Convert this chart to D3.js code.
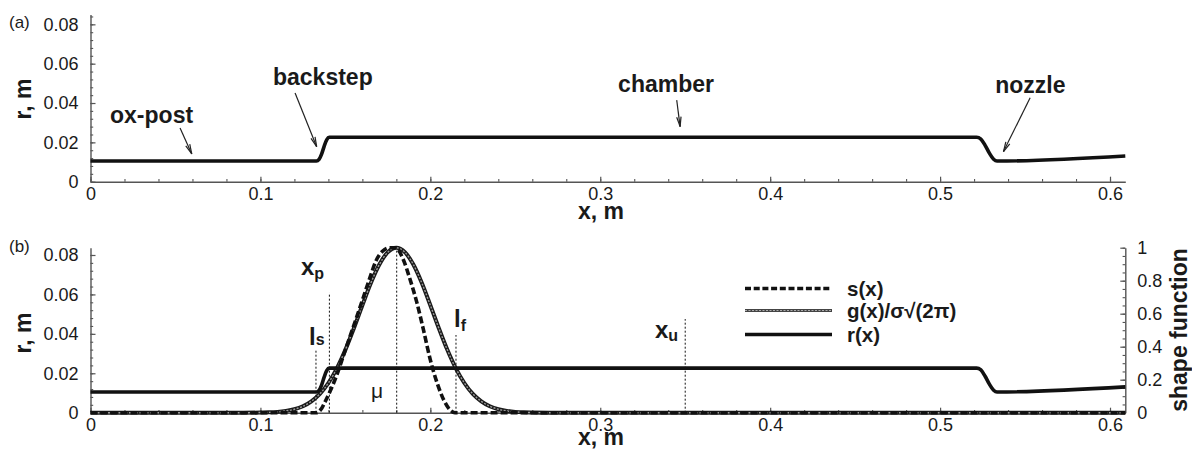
<!DOCTYPE html>
<html><head><meta charset="utf-8">
<script src="https://cdn.jsdelivr.net/npm/d3@7"></script>
<style>
body{margin:0;background:#fff}
svg{display:block}
text{font-family:"Liberation Sans",Arial,Helvetica,sans-serif;fill:#1a1a1a}
</style>
</head><body>
<svg id="c" width="1192" height="452"></svg>
<script>
// ---------- data ----------
const xTicks = [0, 0.1, 0.2, 0.3, 0.4, 0.5, 0.6];
const rTicks = [0, 0.02, 0.04, 0.06, 0.08];
const shapeTicks = [0, 0.2, 0.4, 0.6, 0.8, 1];

// r(x): geometry radius, m
const rX = [0, 0.1330, 0.1345, 0.1360, 0.1375, 0.1390, 0.1405, 0.5215, 0.5240, 0.5265, 0.5290, 0.5315, 0.5335, 0.609];
const rY = [0.0105, 0.0105, 0.0113, 0.0140, 0.0180, 0.0213, 0.0226, 0.0226, 0.0217, 0.0185, 0.0145, 0.0114, 0.0105, 0.0131];

// s(x): shape function
const sX = [0, 0.1330, 0.1360, 0.1380, 0.1410, 0.1450, 0.1490, 0.1530, 0.1570, 0.1606, 0.1645, 0.1680, 0.1720, 0.1760, 0.1795, 0.1840, 0.1880, 0.1920, 0.1960, 0.2000, 0.2040, 0.2080, 0.2115, 0.2145, 0.609];
const sY = [0, 0, 0.025, 0.065, 0.13, 0.23, 0.35, 0.47, 0.59, 0.70, 0.82, 0.92, 0.98, 1.0, 1.0, 0.93, 0.81, 0.67, 0.50, 0.32, 0.18, 0.075, 0.018, 0, 0];

// g(x)/sigma*sqrt(2pi): gaussian shape
const gX = [0, 0.090, 0.100, 0.105, 0.110, 0.115, 0.120, 0.125, 0.130, 0.135, 0.140, 0.145, 0.150, 0.155, 0.160, 0.165, 0.170, 0.175, 0.180, 0.185, 0.190, 0.195, 0.200, 0.205, 0.210, 0.215, 0.220, 0.225, 0.230, 0.235, 0.240, 0.245, 0.250, 0.255, 0.260, 0.270, 0.609];
const gY = [0, 0, 0.001, 0.002, 0.005, 0.011, 0.021, 0.039, 0.069, 0.114, 0.18, 0.269, 0.381, 0.512, 0.651, 0.786, 0.898, 0.973, 1.0, 0.973, 0.898, 0.786, 0.651, 0.512, 0.381, 0.269, 0.18, 0.114, 0.069, 0.039, 0.021, 0.011, 0.005, 0.002, 0.001, 0, 0];

// vertical marker lines (x, top in r units)
const markerX = [0.1327, 0.1406, 0.1802, 0.2151, 0.35];
const markerTop = [0.0318, 0.0609, 0.0836, 0.0394, 0.0475];

// top panel annotations
const annoText = ["ox-post", "backstep", "chamber", "nozzle"];
const annoTailX = [0.0527, 0.1204, 0.3450, 0.5530];
const annoTailY = [0.0273, 0.0451, 0.0415, 0.0427];
const annoTipX = [0.0596, 0.1331, 0.3470, 0.5373];
const annoTipY = [0.0141, 0.0178, 0.0280, 0.0153];
const annoLabelX = [0.0115, 0.1074, 0.3105, 0.5324];
const annoLabelY = [0.0296, 0.0491, 0.0458, 0.0452];

const legendNames = ["s(x)", "g(x)/σ√(2π)", "r(x)"];

// ---------- layout ----------
const svg = d3.select("#c");
const X0 = 90.5, X1 = 1125.3;
const xScale = d3.scaleLinear().domain([0, 0.609]).range([X0, X1]);
const yTop = d3.scaleLinear().domain([0, 0.085]).range([181.7, 14.5]);
const yBot = d3.scaleLinear().domain([0, 0.0837]).range([412.7, 247.7]);
const yShape = d3.scaleLinear().domain([0, 1]).range([412.7, 247.7]);

const fmt = d => d === 0 ? "0" : d3.format("~g")(d);
const axisColor = "#555";

function styleAxis(g) {
  g.select(".domain").attr("stroke", axisColor).attr("stroke-width", 1.4);
  g.selectAll(".tick line").attr("stroke", axisColor).attr("stroke-width", 1.2);
  g.selectAll(".tick text").attr("font-size", 18).attr("fill", "#222")
    .attr("font-family", '"Liberation Sans",Arial,Helvetica,sans-serif');
}
const inDom = (s) => v => v >= s.domain()[0] - 1e-9 && v <= s.domain()[1] + 1e-9;
const xMinor = d3.range(0, 31).map(i => i * 0.02).filter(inDom(xScale));
const yMinorT = d3.range(0, 22).map(i => i * 0.004);

function drawXAxis(yPos) {
  const g = svg.append("g").attr("transform", `translate(0,${yPos})`);
  g.call(d3.axisBottom(xScale).tickValues(xMinor).tickSize(-2.7).tickFormat("").tickSizeOuter(0));
  g.select(".domain").remove();
  g.selectAll(".tick line").attr("stroke", axisColor).attr("stroke-width", 1.1);
  const g2 = svg.append("g").attr("transform", `translate(0,${yPos})`);
  g2.call(d3.axisBottom(xScale).tickValues(xTicks).tickSize(-5).tickPadding(6).tickFormat(fmt).tickSizeOuter(0));
  styleAxis(g2);
}
function drawYAxis(scale, majors, minors, side) {
  const xPos = side === "left" ? X0 : X1;
  const ax = side === "left" ? d3.axisLeft : d3.axisRight;
  const g = svg.append("g").attr("transform", `translate(${xPos},0)`);
  g.call(ax(scale).tickValues(minors.filter(inDom(scale))).tickSize(-2.7).tickFormat("").tickSizeOuter(0));
  g.select(".domain").remove();
  g.selectAll(".tick line").attr("stroke", axisColor).attr("stroke-width", 1.1);
  const g2 = svg.append("g").attr("transform", `translate(${xPos},0)`);
  g2.call(ax(scale).tickValues(majors).tickSize(-5).tickPadding(12).tickFormat(fmt).tickSizeOuter(0));
  styleAxis(g2);
}

// ---------- panel (a) ----------
drawXAxis(181.7);
drawYAxis(yTop, rTicks, yMinorT, "left");

const lineTop = d3.line().x(d => xScale(d[0])).y(d => yTop(d[1])).curve(d3.curveMonotoneX);
svg.append("path").datum(rX.map((x, i) => [x, rY[i]]))
  .attr("d", lineTop).attr("fill", "none").attr("stroke", "#111").attr("stroke-width", 3.6);

annoText.forEach((t, i) => {
  svg.append("text").attr("x", xScale(annoLabelX[i])).attr("y", yTop(annoLabelY[i]))
    .attr("font-size", 23).attr("font-weight", "bold").text(t);
  const x1 = xScale(annoTailX[i]), y1 = yTop(annoTailY[i]);
  const x2 = xScale(annoTipX[i]), y2 = yTop(annoTipY[i]);
  svg.append("line").attr("x1", x1).attr("y1", y1).attr("x2", x2).attr("y2", y2)
    .attr("stroke", "#222").attr("stroke-width", 1.2);
  const ang = Math.atan2(y1 - y2, x1 - x2), L = 10, da = 0.22;
  [ang - da, ang + da].forEach(a => {
    svg.append("line").attr("x1", x2).attr("y1", y2)
      .attr("x2", x2 + L * Math.cos(a)).attr("y2", y2 + L * Math.sin(a))
      .attr("stroke", "#222").attr("stroke-width", 1.2);
  });
});

svg.append("text").attr("x", 9).attr("y", 28).attr("font-size", 17).text("(a)");
svg.append("text").attr("transform", "translate(31,99) rotate(-90)").attr("text-anchor", "middle")
  .attr("font-size", 23).attr("font-weight", "bold").text("r, m");
svg.append("text").attr("x", 601).attr("y", 219).attr("text-anchor", "middle")
  .attr("font-size", 23).attr("font-weight", "bold").text("x, m");

// ---------- panel (b) ----------
drawXAxis(412.7);
drawYAxis(yBot, rTicks, yMinorT, "left");
drawYAxis(yShape, shapeTicks, d3.range(0, 21).map(i => i * 0.05), "right");

// marker lines
markerX.forEach((mx, i) => {
  svg.append("line").attr("x1", xScale(mx)).attr("x2", xScale(mx))
    .attr("y1", yBot(0)).attr("y2", yBot(markerTop[i]))
    .attr("stroke", "#111").attr("stroke-width", 1).attr("stroke-dasharray", "2,2");
});

const lineShape = d3.line().x(d => xScale(d[0])).y(d => yShape(d[1])).curve(d3.curveMonotoneX);
const lineBot = d3.line().x(d => xScale(d[0])).y(d => yBot(d[1])).curve(d3.curveMonotoneX);

const gData = gX.map((x, i) => [x, gY[i]]);
svg.append("path").datum(gData).attr("d", lineShape).attr("fill", "none")
  .attr("stroke", "#1a1a1a").attr("stroke-width", 4);
svg.append("path").datum(gData).attr("d", lineShape).attr("fill", "none")
  .attr("stroke", "#9a9a9a").attr("stroke-width", 1.4).attr("stroke-dasharray", "2,1.5");

svg.append("path").datum(sX.map((x, i) => [x, sY[i]])).attr("d", lineShape).attr("fill", "none")
  .attr("stroke", "#111").attr("stroke-width", 3.6).attr("stroke-dasharray", "7,3");

svg.append("path").datum(rX.map((x, i) => [x, rY[i]])).attr("d", lineBot)
  .attr("fill", "none").attr("stroke", "#111").attr("stroke-width", 3.6);

// marker labels
function subLabel(x, y, main, sub, subDy) {
  const t = svg.append("text").attr("x", x).attr("y", y).attr("font-size", 24).attr("font-weight", "bold");
  t.append("tspan").text(main);
  if (sub) t.append("tspan").attr("font-size", 16).attr("dy", subDy).text(sub);
}
subLabel(301, 275, "x", "p", 4);
subLabel(309, 345, "l", "s", 0);
subLabel(454, 327, "l", "f", 4);
subLabel(655, 338, "x", "u", 3);
svg.append("text").attr("x", 371).attr("y", 398).attr("font-size", 21).text("μ");

// legend
const legY = [288.5, 310.5, 334.5];
const legX1 = 745, legX2 = 832;
svg.append("line").attr("x1", legX1).attr("x2", legX2).attr("y1", legY[0]).attr("y2", legY[0])
  .attr("stroke", "#111").attr("stroke-width", 3.4).attr("stroke-dasharray", "6,2.7");
svg.append("line").attr("x1", legX1).attr("x2", legX2).attr("y1", legY[1]).attr("y2", legY[1])
  .attr("stroke", "#444").attr("stroke-width", 3);
svg.append("line").attr("x1", legX1).attr("x2", legX2).attr("y1", legY[1]).attr("y2", legY[1])
  .attr("stroke", "#aaa").attr("stroke-width", 1.2).attr("stroke-dasharray", "2,1.5");
svg.append("line").attr("x1", legX1).attr("x2", legX2).attr("y1", legY[2]).attr("y2", legY[2])
  .attr("stroke", "#111").attr("stroke-width", 3.6);
legendNames.forEach((n, i) => {
  svg.append("text").attr("x", 847).attr("y", legY[i] + 7).attr("font-size", 20.5)
    .attr("font-weight", "bold").text(n);
});

svg.append("text").attr("x", 9).attr("y", 252).attr("font-size", 17).text("(b)");
svg.append("text").attr("transform", "translate(31,333) rotate(-90)").attr("text-anchor", "middle")
  .attr("font-size", 23).attr("font-weight", "bold").text("r, m");
svg.append("text").attr("x", 601).attr("y", 445).attr("text-anchor", "middle")
  .attr("font-size", 23).attr("font-weight", "bold").text("x, m");
svg.append("text").attr("transform", "translate(1187,330) rotate(-90)").attr("text-anchor", "middle")
  .attr("font-size", 23).attr("font-weight", "bold").text("shape function");
</script>
</body></html>
